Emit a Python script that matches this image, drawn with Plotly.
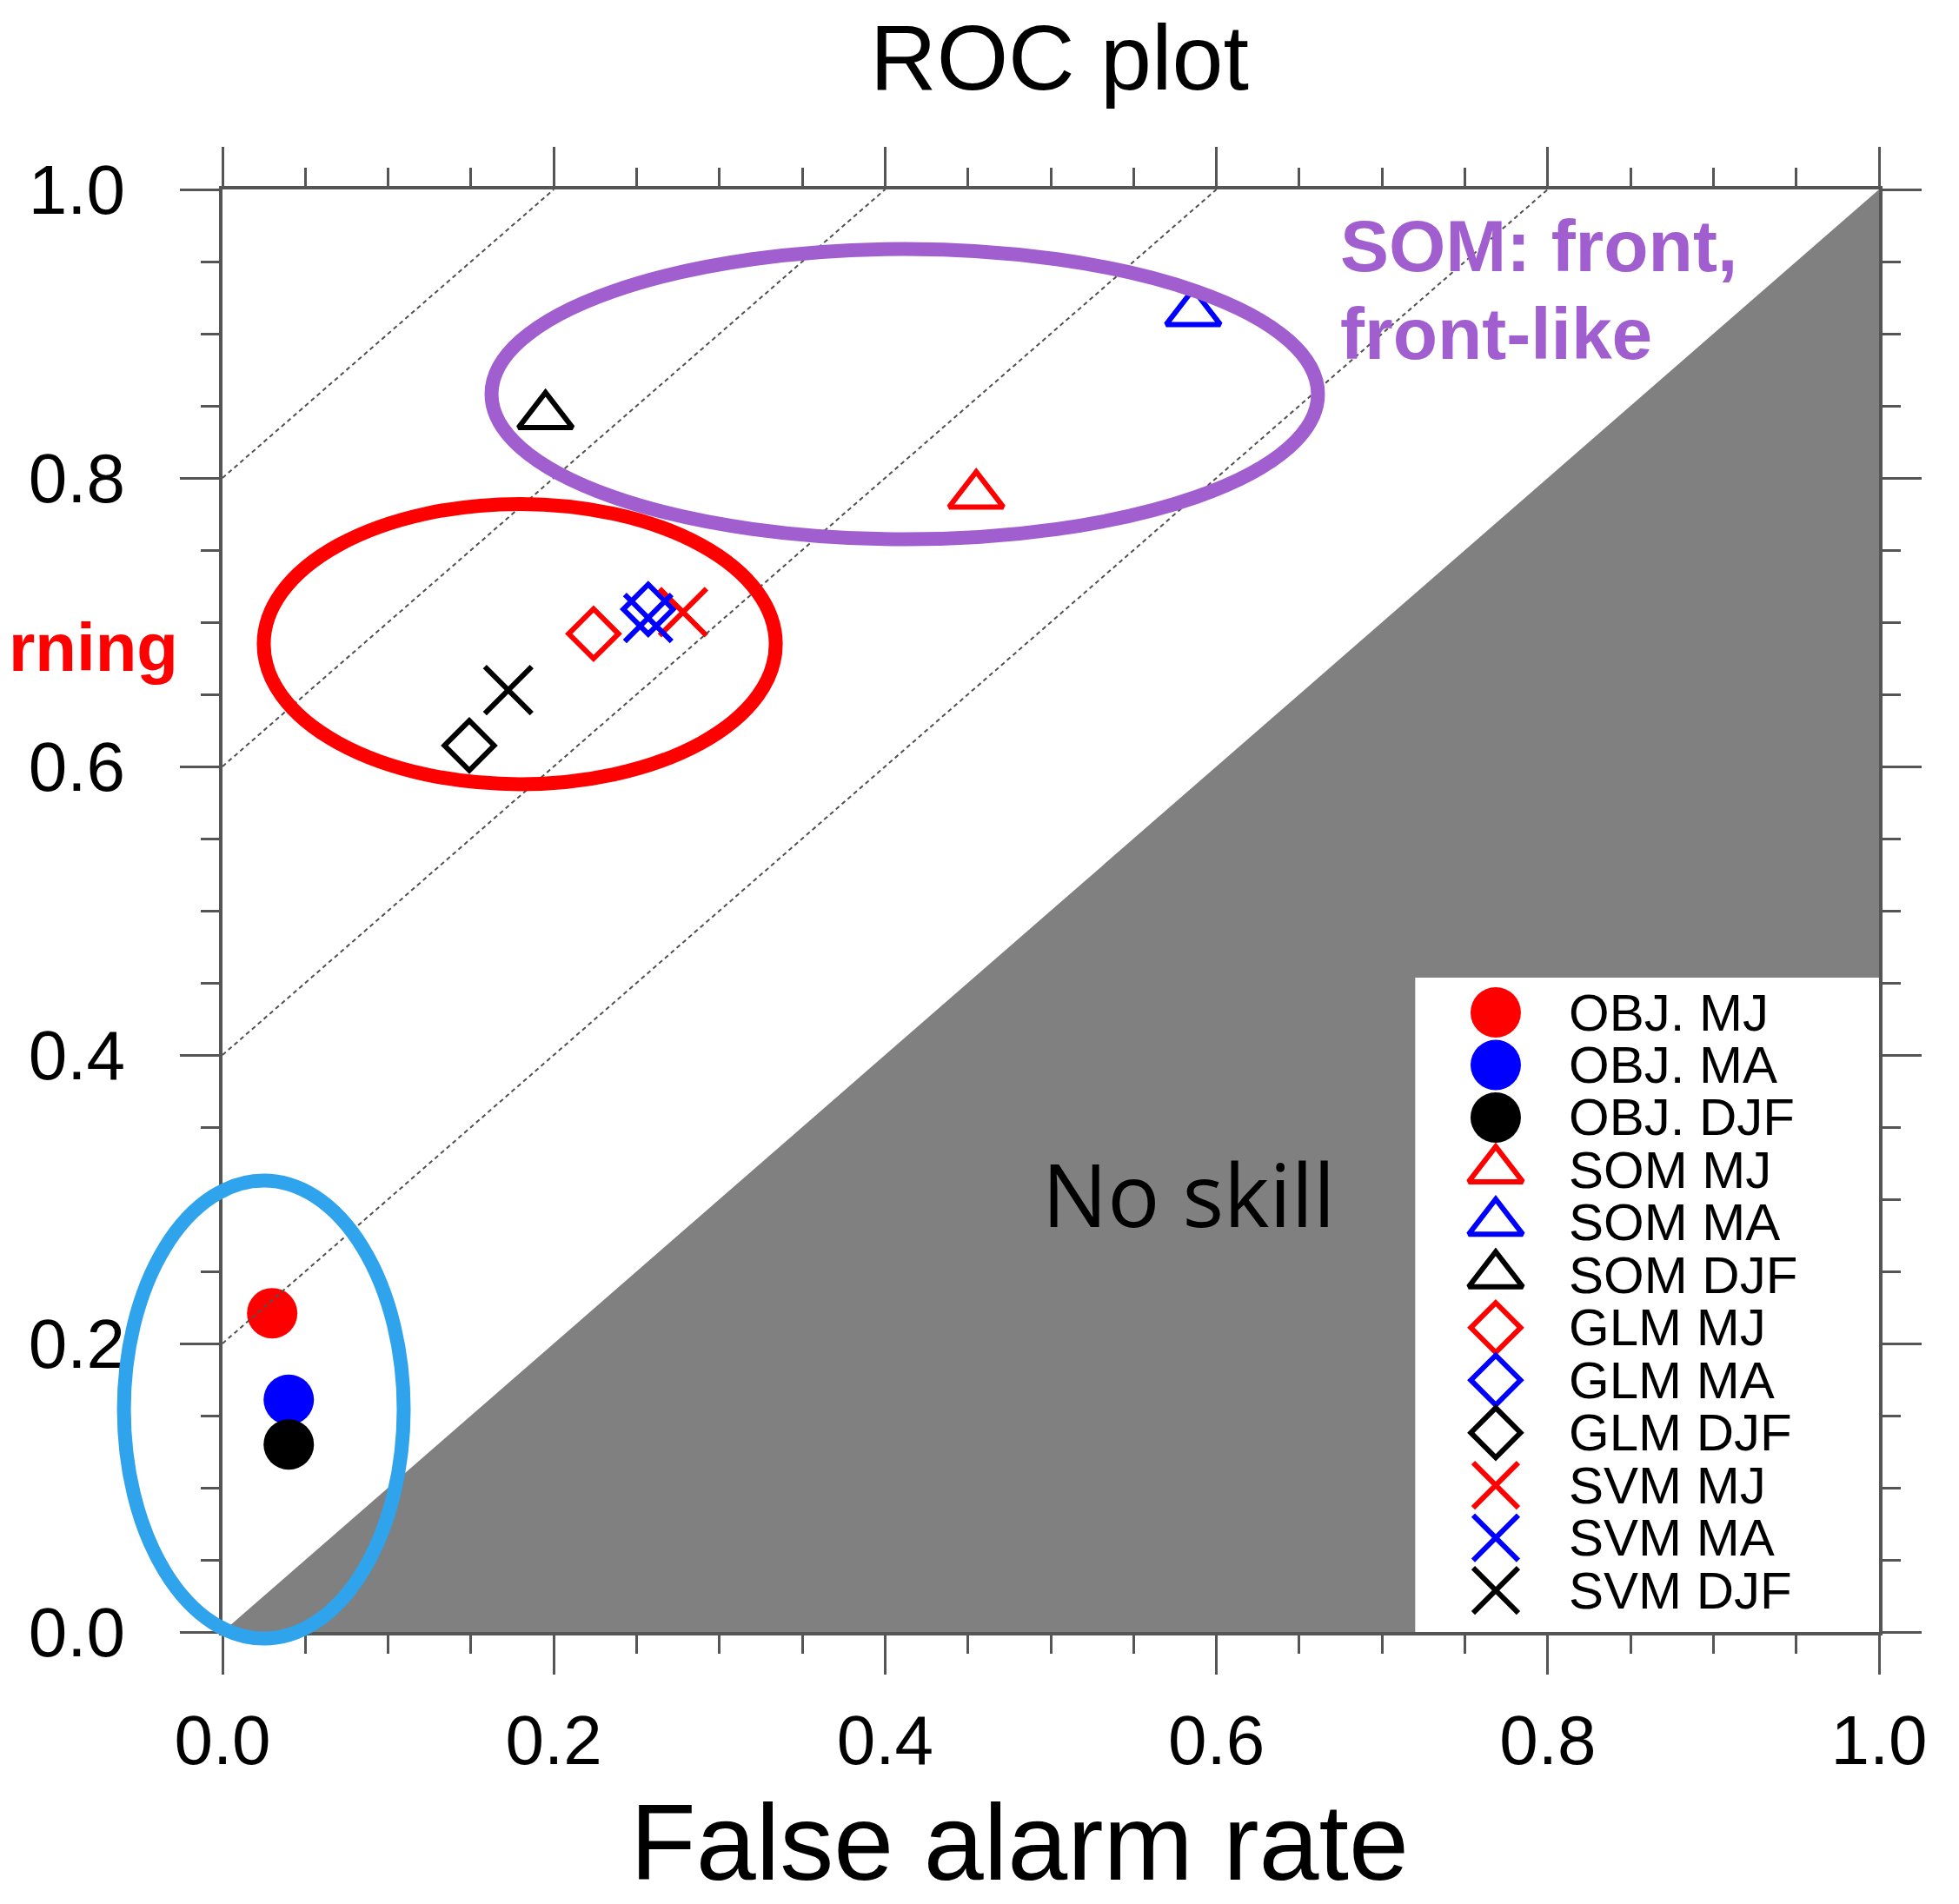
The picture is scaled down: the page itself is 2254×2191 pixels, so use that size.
import plotly.graph_objects as go

# ---------------- data ----------------
series_labels = ["OBJ. MJ", "OBJ. MA", "OBJ. DJF",
                 "SOM MJ", "SOM MA", "SOM DJF",
                 "GLM MJ", "GLM MA", "GLM DJF",
                 "SVM MJ", "SVM MA", "SVM DJF"]
false_alarm = [0.030, 0.040, 0.040,
               0.455, 0.586, 0.195,
               0.224, 0.257, 0.149,
               0.278, 0.257, 0.1725]
hit_rate = [0.221, 0.161, 0.130,
            0.788, 0.9145, 0.843,
            0.692, 0.709, 0.6145,
            0.707, 0.703, 0.653]
series_colors = ["#ff0000", "#0000ff", "#000000"] * 4
methods = ["OBJ", "SOM", "GLM", "SVM"]
method_symbols = {"OBJ": "circle", "SOM": "triangle-up-open",
                  "GLM": "diamond-open", "SVM": "x-thin-open"}
method_sizes = {"OBJ": 58, "SOM": 54, "GLM": 44, "SVM": 54}
legend_sizes = {"OBJ": 58, "SOM": 54, "GLM": 44, "SVM": 52}
pss_levels = [0.2, 0.4, 0.6, 0.8]          # dashed iso-skill lines (POD - POFD)
no_skill_x = [0.0, 1.0, 1.0]
no_skill_y = [0.0, 1.0, 0.0]
tick_vals = [0.0, 0.2, 0.4, 0.6, 0.8, 1.0]
tick_text = ["0.0", "0.2", "0.4", "0.6", "0.8", "1.0"]

FONT = "Liberation Sans"
AXC = "#555555"
PURPLE = "#a15ecf"

fig = go.Figure()

# no-skill region
fig.add_trace(go.Scatter(x=no_skill_x, y=no_skill_y, fill="toself", mode="none",
                         fillcolor="#808080", hoverinfo="skip", showlegend=False))

# legend box (white)
LB_X0, LB_Y1 = 0.720, 0.4536
fig.add_trace(go.Scatter(x=[LB_X0, 1.0, 1.0, LB_X0], y=[0.0, 0.0, LB_Y1, LB_Y1],
                         fill="toself", mode="none", fillcolor="white",
                         hoverinfo="skip", showlegend=False))

# data markers, one trace per method
for m in methods:
    idx = [i for i, lab in enumerate(series_labels) if lab.startswith(m)]
    filled = m == "OBJ"
    fig.add_trace(go.Scatter(
        x=[false_alarm[i] for i in idx], y=[hit_rate[i] for i in idx],
        mode="markers", name=m, showlegend=False,
        text=[series_labels[i] for i in idx],
        marker=dict(symbol=method_symbols[m], size=method_sizes[m], opacity=1,
                    color=[series_colors[i] for i in idx],
                    line=dict(width=0 if filled else 6,
                              color=[series_colors[i] for i in idx]))))

# dashed iso-skill lines
for p in pss_levels:
    fig.add_trace(go.Scatter(x=[0.0, 1.0 - p], y=[p, 1.0], mode="lines",
                             line=dict(color="#505050", width=2, dash="5px,4px"),
                             hoverinfo="skip", showlegend=False))

# ---------------- manual legend ----------------
LEG_MX, LEG_TX = 0.7686, 0.812
LEG_Y0, LEG_DY = 0.4295, 0.03642
leg_y = [LEG_Y0 - k * LEG_DY for k in range(len(series_labels))]
leg_m = [lab.split(" ")[0].rstrip(".") for lab in series_labels]
fig.add_trace(go.Scatter(
    x=[LEG_MX] * len(series_labels), y=leg_y, mode="markers",
    hoverinfo="skip", showlegend=False,
    marker=dict(symbol=[method_symbols[m] for m in leg_m],
                size=[legend_sizes[m] for m in leg_m], opacity=1,
                color=series_colors,
                line=dict(width=[0 if m == "OBJ" else 6 for m in leg_m],
                          color=series_colors))))

annotations = []
for lab, yy in zip(series_labels, leg_y):
    annotations.append(dict(x=LEG_TX, y=yy, xref="x", yref="y", text=lab,
                            showarrow=False, xanchor="left", yanchor="middle",
                            borderpad=0,
                            font=dict(family=FONT, size=60, color="black")))

annotations += [
    dict(x=0.481, y=-0.1458, xref="paper", yref="paper", text="False alarm rate",
         showarrow=False, xanchor="center", yanchor="middle", borderpad=0,
         font=dict(family=FONT, size=124, color="black")),
    dict(x=0.5834, y=0.304, xref="paper", yref="paper", text="No skill",
         showarrow=False, xanchor="center", yanchor="middle",
         font=dict(family="Open Sans", size=100, color="black")),
    dict(x=0.6737, y=0.9608, xref="paper", yref="paper", text="<b>SOM: front,</b>",
         showarrow=False, xanchor="left", yanchor="middle",
         font=dict(family=FONT, size=84, color=PURPLE)),
    dict(x=0.6737, y=0.900, xref="paper", yref="paper", text="<b>front-like</b>",
         showarrow=False, xanchor="left", yanchor="middle",
         font=dict(family=FONT, size=84, color=PURPLE)),
    dict(x=-0.026, y=0.6825, xref="paper", yref="paper", text="<b>rning</b>",
         showarrow=False, xanchor="right", yanchor="middle", borderpad=0,
         font=dict(family=FONT, size=78, color="#ff0000")),
]

shapes = [
    dict(type="circle", xref="paper", yref="paper", x0=0.1624, x1=0.6613,
         y0=0.7575, y1=0.9587, line=dict(color=PURPLE, width=16), layer="above"),
    dict(type="circle", xref="paper", yref="paper", x0=0.0249, x1=0.334,
         y0=0.5877, y1=0.782, line=dict(color="#ff0000", width=16), layer="above"),
    dict(type="circle", xref="paper", yref="paper", x0=-0.0595, x1=0.1094,
         y0=-0.0045, y1=0.3129, line=dict(color="#2fa3eb", width=16), layer="above"),
]

axis_common = dict(
    range=[0, 1], tickvals=tick_vals, ticktext=tick_text,
    ticks="outside", ticklen=45, tickwidth=3, tickcolor=AXC,
    showline=True, linewidth=4, linecolor=AXC, mirror="ticks",
    showgrid=False, zeroline=False,
    tickfont=dict(family=FONT, size=80, color="black"),
    minor=dict(dtick=0.05, ticks="outside", ticklen=21, tickwidth=2.5,
               tickcolor=AXC, showgrid=False),
)

fig.update_layout(
    width=2246, height=2183,
    margin=dict(l=248, r=92, t=210, b=313, autoexpand=False),
    paper_bgcolor="white", plot_bgcolor="white",
    title=dict(text="ROC plot", x=0.5392, y=0.9734, xref="container", yref="container",
               xanchor="center", yanchor="middle",
               font=dict(family=FONT, size=106, color="black")),
    xaxis=dict(**axis_common, ticklabelstandoff=7),
    yaxis=dict(**axis_common, ticklabelstandoff=47),
    annotations=annotations, shapes=shapes, showlegend=False,
)

fig.write_html("out.html")
